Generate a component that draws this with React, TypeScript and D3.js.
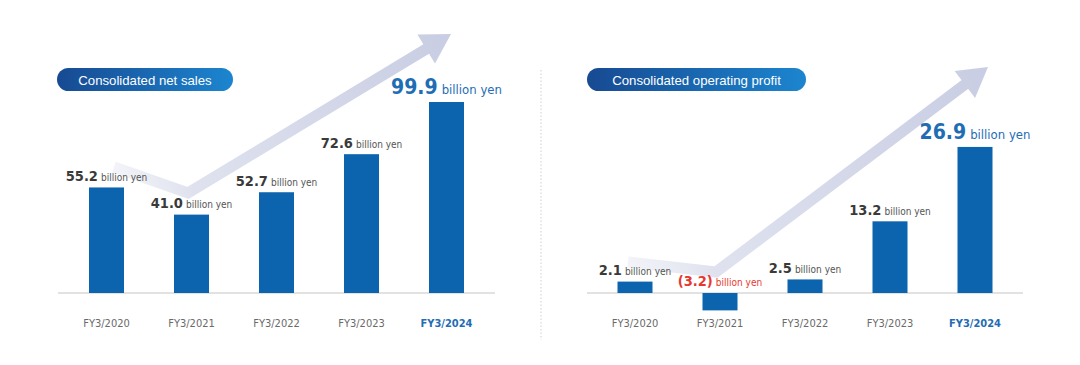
import React from "react";
import * as d3 from "d3";

const categories = ["FY3/2020", "FY3/2021", "FY3/2022", "FY3/2023", "FY3/2024"];
const netSales = [55.2, 41.0, 52.7, 72.6, 99.9];
const operatingProfit = [2.1, -3.2, 2.5, 13.2, 26.9];
const titles = ["Consolidated net sales", "Consolidated operating profit"];
const unit = "billion yen";

const W = 1080;
const H = 365;
const BAR = "#0b64ad";
const HIGHLIGHT = "#1f6db5";
const NUMFONT = "'DejaVu Sans Condensed', 'DejaVu Sans', sans-serif";
const TITLEFONT = "'Liberation Sans', Arial, sans-serif";

type Panel = {
  id: string;
  title: string;
  values: number[];
  axis: [number, number];
  centers: [number, number];
  yDomain: [number, number];
  yRange: [number, number];
  pill: [number, number];
  arrow: { start: [number, number]; valley: [number, number]; tip: [number, number] };
};

const panels: Panel[] = [
  {
    id: "l",
    title: titles[0],
    values: netSales,
    axis: [58, 495],
    centers: [106.5, 446.5],
    yDomain: [0, 100],
    yRange: [293, 101.8],
    pill: [57, 233],
    arrow: { start: [114, 167], valley: [188, 193], tip: [451, 34] },
  },
  {
    id: "r",
    title: titles[1],
    values: operatingProfit,
    axis: [587, 1023],
    centers: [635, 975],
    yDomain: [0, 30],
    yRange: [293, 130.1],
    pill: [587, 806],
    arrow: { start: [628, 262], valley: [716, 272], tip: [988, 67] },
  },
];

function fmt(v: number) {
  return v < 0 ? `(${Math.abs(v).toFixed(1)})` : v.toFixed(1);
}

function Arrow({ p }: { p: Panel }) {
  const { start, valley, tip } = p.arrow;
  const dx = tip[0] - valley[0];
  const dy = tip[1] - valley[1];
  const len = Math.hypot(dx, dy);
  const ux = dx / len;
  const uy = dy / len;
  const headLen = 29;
  const headHalf = 17;
  const base: [number, number] = [tip[0] - ux * headLen, tip[1] - uy * headLen];
  const shaftEnd: [number, number] = [base[0] + ux * 1, base[1] + uy * 1];
  const px = -uy;
  const py = ux;
  const line = d3.line();
  const shaft = line([start, valley, shaftEnd]) || "";
  const head = `M${tip[0]},${tip[1]}L${base[0] + px * headHalf},${base[1] + py * headHalf}L${base[0] - px * headHalf},${base[1] - py * headHalf}Z`;
  const gid = `arrowgrad-${p.id}`;
  return (
    <g>
      <defs>
        <linearGradient id={gid} gradientUnits="userSpaceOnUse" x1={start[0]} y1={start[1]} x2={tip[0]} y2={tip[1]}>
          <stop offset="0" stopColor="#f3f4f9" />
          <stop offset="0.18" stopColor="#dfe2ee" />
          <stop offset="1" stopColor="#c9cde3" />
        </linearGradient>
      </defs>
      <path d={shaft} fill="none" stroke={`url(#${gid})`} strokeWidth={11} strokeLinejoin="miter" />
      <path d={head} fill={`url(#${gid})`} />
    </g>
  );
}

function PanelView({ p }: { p: Panel }) {
  const x = d3.scalePoint<string>().domain(categories).range(p.centers);
  const y = d3.scaleLinear().domain(p.yDomain).range(p.yRange);
  const barW = 35;
  const pillId = `pill-${p.id}`;
  const last = categories.length - 1;
  return (
    <g>
      <defs>
        <linearGradient id={pillId} x1="0" y1="0" x2="1" y2="0">
          <stop offset="0" stopColor="#174a92" />
          <stop offset="1" stopColor="#1c85cf" />
        </linearGradient>
      </defs>
      <rect x={p.pill[0]} y={68} width={p.pill[1] - p.pill[0]} height={23} rx={11.5} fill={`url(#${pillId})`} />
      <text
        x={(p.pill[0] + p.pill[1]) / 2}
        y={84.5}
        textAnchor="middle"
        fill="#ffffff"
        fontFamily={TITLEFONT}
        fontSize={13.2}
        style={{ fontWeight: 500 }}
      >
        {p.title}
      </text>

      <Arrow p={p} />

      <line x1={p.axis[0]} x2={p.axis[1]} y1={y(0)} y2={y(0)} stroke="#d8d8d8" strokeWidth={1.5} />

      {p.values.map((v, i) => {
        const cx = x(categories[i]) as number;
        const top = Math.min(y(v), y(0));
        const h = Math.abs(y(v) - y(0));
        return <rect key={i} x={cx - barW / 2} y={top} width={barW} height={h} fill={BAR} />;
      })}

      {p.values.map((v, i) => {
        const cx = x(categories[i]) as number;
        const isLast = i === last;
        const neg = v < 0;
        const ty = neg ? y(0) - 7 : y(v) - (isLast ? 8 : 6.5);
        const numColor = isLast ? HIGHLIGHT : neg ? "#e8372f" : "#3a3a3a";
        const unitColor = isLast ? HIGHLIGHT : neg ? "#e8372f" : "#555555";
        return (
          <text key={i} x={cx} y={ty} textAnchor="middle" fontFamily={NUMFONT} style={{ fontStretch: "condensed" }}>
            <tspan fontSize={isLast ? 21 : 14.5} fontWeight="bold" fill={numColor}>
              {fmt(v)}
            </tspan>
            <tspan dx={isLast ? 4 : 3} fontSize={isLast ? 13 : 10} fill={unitColor}>
              {unit}
            </tspan>
          </text>
        );
      })}

      {categories.map((c, i) => (
        <text
          key={c}
          x={x(c) as number}
          y={327}
          textAnchor="middle"
          fontFamily={NUMFONT}
          fontSize={11}
          fontWeight={i === last ? "bold" : "normal"}
          fill={i === last ? HIGHLIGHT : "#6a6a6a"}
          style={{ fontStretch: "condensed" }}
        >
          {c}
        </text>
      ))}
    </g>
  );
}

export default function App() {
  return (
    <div style={{ position: "absolute", left: 0, top: 0, width: W, height: H, background: "#ffffff" }}>
      <svg width={W} height={H} viewBox={`0 0 ${W} ${H}`} style={{ display: "block" }}>
        <rect x={0} y={0} width={W} height={H} fill="#ffffff" />
        <line x1={541} x2={541} y1={70} y2={340} stroke="#cfcfcf" strokeWidth={1} strokeDasharray="1.5 2" />
        {panels.map((p) => (
          <PanelView key={p.id} p={p} />
        ))}
      </svg>
    </div>
  );
}
